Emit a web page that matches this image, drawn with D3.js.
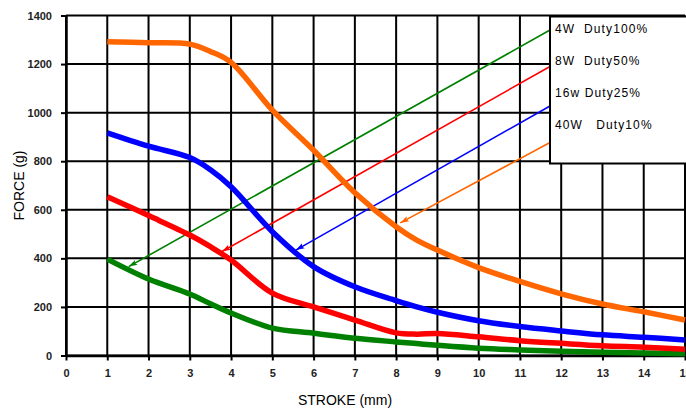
<!DOCTYPE html>
<html>
<head>
<meta charset="utf-8">
<script src="https://cdn.jsdelivr.net/npm/d3@7"></script>
<style>
  html, body { margin: 0; padding: 0; background: #fff; overflow: hidden; }
  svg { display: block; }
  text { font-family: Arial, "Liberation Sans", sans-serif; }
</style>
</head>
<body>
<svg id="chart" width="686" height="410"></svg>
<script>
// Stroke positions (mm)
const stroke = [1, 2, 3, 3.5, 4, 5, 6, 7, 8, 8.5, 9, 10, 11, 12, 13, 14, 15];

// Holding force (g) per drive condition
const force40W = [1292, 1288, 1282, 1252, 1207, 1010, 845, 670, 530, 475, 434, 362, 305, 254, 212, 180, 146];
const force16W = [917, 862, 815, 765, 695, 510, 366, 283, 226, 200, 178, 143, 119, 101, 85, 75, 64];
const force8W  = [654, 576, 496, 448, 393, 257, 200, 146, 93, 88, 91, 77, 61, 50, 40, 34, 26];
const force4W  = [397, 315, 253, 213, 175, 113, 92, 71, 56, 49, 42, 30, 23, 17, 13, 10, 7];

const seriesNames  = ["4W  Duty100%", "8W  Duty50%", "16w Duty25%", "40W   Duty10%"];
const seriesColors = ["#008000", "#ff0000", "#0000ff", "#ff6600"];
const seriesValues = [force4W, force8W, force16W, force40W];

// Where each callout arrow points on its curve (stroke mm, force g)
const arrowTipX = [1.52, 3.78, 5.57, 8.1];
const arrowTipY = [366, 428, 434, 546];

const xTicks = d3.range(0, 16);
const yTicks = d3.range(0, 1401, 200);

const svg = d3.select("#chart");
const margin = { left: 66, top: 15.5, right: 1, bottom: 54.5 };
const W = 686, H = 410;

const x = d3.scaleLinear().domain([0, 15]).range([margin.left, W - margin.right]);
const y = d3.scaleLinear().domain([0, 1400]).range([H - margin.bottom, margin.top]);

// Grid
const grid = svg.append("g");
grid.selectAll("line.v").data(xTicks).join("line")
  .attr("x1", d => x(d)).attr("x2", d => x(d))
  .attr("y1", y(0)).attr("y2", y(1400))
  .attr("stroke", "#000").attr("stroke-width", 2);
grid.selectAll("line.h").data(yTicks).join("line")
  .attr("x1", x(0)).attr("x2", x(15))
  .attr("y1", d => y(d)).attr("y2", d => y(d))
  .attr("stroke", "#000").attr("stroke-width", 2);

// Axes
const xAxis = svg.append("g").attr("transform", `translate(0,${y(0)})`)
  .call(d3.axisBottom(x).tickValues(xTicks).tickFormat(d3.format("d")).tickSizeInner(5).tickSizeOuter(0).tickPadding(9));
const yAxis = svg.append("g").attr("transform", `translate(${x(0)},0)`)
  .call(d3.axisLeft(y).tickValues(yTicks).tickFormat(d3.format("d")).tickSizeInner(5).tickSizeOuter(0).tickPadding(9));
[xAxis, yAxis].forEach(a => {
  a.select(".domain").attr("stroke", "#000").attr("stroke-width", 2.5);
  a.selectAll(".tick line").attr("stroke", "#000").attr("stroke-width", 2);
  a.selectAll(".tick text").attr("font-size", 11).attr("font-weight", "bold")
    .attr("fill", "#222").attr("font-family", "Arial, 'Liberation Sans', sans-serif");
});

// Axis titles
svg.append("text").attr("x", 345).attr("y", 405).attr("text-anchor", "middle")
  .attr("font-size", 14).attr("fill", "#000").text("STROKE (mm)");
svg.append("text").attr("transform", `translate(24,${(y(0) + y(1400)) / 2}) rotate(-90)`)
  .attr("text-anchor", "middle").attr("font-size", 14).attr("fill", "#000").text("FORCE (g)");

// Legend box geometry
const legendX = 550, legendY = 16.5, legendH = 147, legendRow0 = 33, legendRowGap = 32;
const arrowStartY = [30, 66.5, 106, 142.5];

// Arrow markers
const defs = svg.append("defs");
seriesColors.forEach((c, i) => {
  defs.append("marker").attr("id", "arr" + i)
    .attr("viewBox", "0 -4 10 8").attr("refX", 10).attr("refY", 0)
    .attr("markerUnits", "userSpaceOnUse").attr("markerWidth", 9).attr("markerHeight", 7)
    .attr("orient", "auto")
    .append("path").attr("d", "M0,-3.2L10,0L0,3.2L2,0Z").attr("fill", c);
});

// Callout arrows from legend rows to curves
svg.append("g").selectAll("line").data(seriesNames).join("line")
  .attr("x1", legendX).attr("y1", (d, i) => arrowStartY[i])
  .attr("x2", (d, i) => x(arrowTipX[i])).attr("y2", (d, i) => y(arrowTipY[i]))
  .attr("stroke", (d, i) => seriesColors[i]).attr("stroke-width", 1.6)
  .attr("marker-end", (d, i) => `url(#arr${i})`);

// Force curves
const line = d3.line().x(d => x(d[0])).y(d => y(d[1])).curve(d3.curveCatmullRom.alpha(0.5));
svg.append("g").selectAll("path").data(seriesValues).join("path")
  .attr("d", vals => line(stroke.map((s, j) => [s, vals[j]])))
  .attr("fill", "none")
  .attr("stroke", (d, i) => seriesColors[i])
  .attr("stroke-width", 5.5)
  .attr("stroke-linecap", "butt")
  .attr("stroke-linejoin", "round");

// Legend
svg.append("rect").attr("x", legendX).attr("y", legendY).attr("width", 150).attr("height", legendH)
  .attr("fill", "#fff").attr("stroke", "#000").attr("stroke-width", 2);
svg.append("g").selectAll("text").data(seriesNames).join("text")
  .attr("x", 555).attr("y", (d, i) => legendRow0 + i * legendRowGap)
  .attr("font-size", 12).attr("letter-spacing", 1.1).attr("fill", "#000")
  .attr("xml:space", "preserve").style("white-space", "pre")
  .text(d => d);
</script>
</body>
</html>
